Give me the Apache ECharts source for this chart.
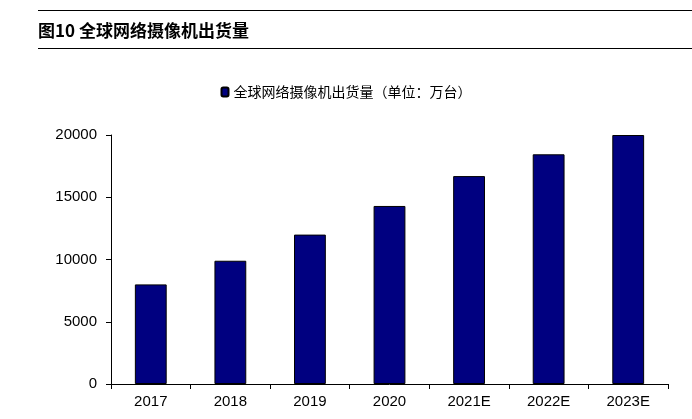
<!DOCTYPE html>
<html>
<head>
<meta charset="utf-8">
<script src="https://cdn.jsdelivr.net/npm/echarts@6/dist/echarts.min.js"></script>
<style>
html,body{margin:0;padding:0;background:#fff;}
#box{position:relative;width:692px;height:419px;}
#title{position:absolute;left:38px;top:10px;width:654px;height:37px;border-top:1px solid #000;border-bottom:1px solid #000;
 font-family:"Noto Sans CJK SC";font-weight:bold;font-size:17px;line-height:37px;color:#000;}
#chart{position:absolute;left:0;top:0;width:692px;height:419px;}
</style>
</head>
<body>
<div id="box">
<div id="chart"></div>
<div id="title">图10 全球网络摄像机出货量</div>
</div>
<script>
// 年份
var years = ['2017','2018','2019','2020','2021E','2022E','2023E'];
// 出货量（万台）
var shipments = [8000, 9900, 12000, 14300, 16700, 18450, 20000];
var yTicks = [0, 5000, 10000, 15000, 20000];

var myChart = echarts.init(document.getElementById('chart'));
var option = {
    animation: false,
    legend: {
        top: 80,
        left: 'center',
        itemWidth: 7,
        itemHeight: 9,
        itemGap: 4,
        textStyle: { fontFamily: 'Noto Sans CJK SC', fontSize: 14, color: '#000' },
        data: ['全球网络摄像机出货量（单位：万台）']
    },
    grid: { left: 111, right: 24, top: 135, bottom: 35 },
    xAxis: {
        type: 'category',
        data: years,
        axisLine: { lineStyle: { color: '#000' } },
        axisTick: { show: true, length: 5, lineStyle: { color: '#000' } },
        axisLabel: { color: '#000', fontSize: 15, fontFamily: 'Liberation Sans', margin: 10 }
    },
    yAxis: {
        type: 'value',
        min: yTicks[0],
        max: yTicks[yTicks.length - 1],
        interval: 5000,
        splitLine: { show: false },
        axisLine: { show: true, lineStyle: { color: '#000' } },
        axisTick: { show: true, length: 5, lineStyle: { color: '#000' } },
        axisLabel: { color: '#000', fontSize: 15, fontFamily: 'Liberation Sans', margin: 14,
            formatter: function (v) { return String(v); } }
    },
    series: [{
        name: '全球网络摄像机出货量（单位：万台）',
        type: 'bar',
        data: shipments,
        barWidth: '40%',
        itemStyle: { color: '#000080', borderColor: '#000', borderWidth: 1 }
    }]
};
myChart.setOption(option);
</script>
</body>
</html>
